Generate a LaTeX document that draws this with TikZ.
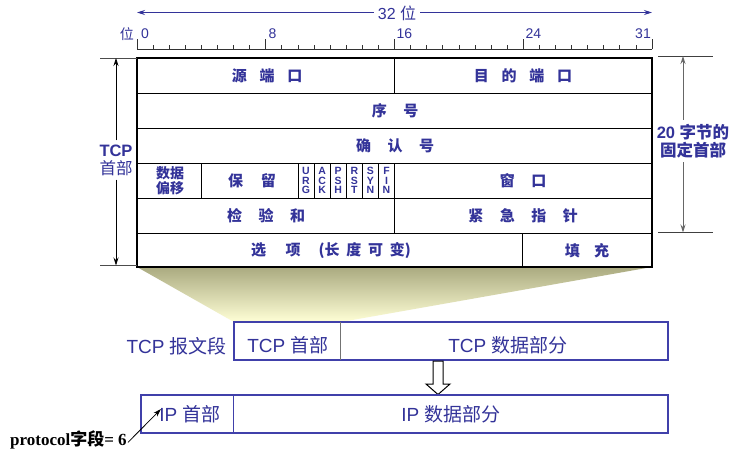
\documentclass[tikz,border=0pt]{standalone}
\usepackage{fontspec}
\setmainfont{Liberation Sans}
\newfontfamily\cjk{Noto Sans CJK SC}
\newfontfamily\serifb{Liberation Serif}
\usetikzlibrary{arrows.meta}
\definecolor{tblue}{RGB}{51,51,153}
\definecolor{bblue}{RGB}{64,64,170}
\definecolor{olivetop}{RGB}{170,170,128}
\definecolor{paleyel}{RGB}{255,255,214}
\newcommand\gp[1][1em]{\hspace{#1}}
\newcommand\hdfont{\cjk\bfseries\fontsize{15}{17}\selectfont}
\begin{document}
\begin{tikzpicture}[x=1pt,y=-1pt,
  hd/.style={text=tblue,font=\hdfont,inner sep=0pt},
  flag/.style={text=tblue,align=center,inner sep=0pt,font=\bfseries\fontsize{10.5}{9.6}\selectfont},
  num/.style={text=tblue,inner sep=0pt,font=\fontsize{14}{16}\selectfont},
  low/.style={text=tblue,inner sep=0pt,font=\fontsize{19}{21}\selectfont},
  inner/.style={line width=0.8pt},
  tip/.style={-{Stealth[length=8pt,width=5pt]}}]
\useasboundingbox (0,0) rectangle (737,456);
\fill[white] (0,0) rectangle (737,456);

% ruler
\draw[line width=0.7pt,black!80] (137,49) -- (652,49);
\foreach \i in {0,...,32} {\draw[line width=0.7pt,black!80] ({137+\i*16.094},49) -- ++(0,-4);}
\foreach \i in {0,8,16,24,32} {\draw[line width=0.9pt,black!80] ({137+\i*16.094},49) -- ++(0,-10);}
\node[num,anchor=base west] (n0) at (141,38) {0};
\node[num,anchor=base west] (n8) at (268.5,38) {8};
\node[num,anchor=base west] (n16) at (396.5,38) {16};
\node[num,anchor=base west] (n24) at (525.5,38) {24};
\node[num,anchor=base east] (n31) at (651,38) {31};
\node[num,anchor=base east,font=\cjk\fontsize{14}{16}\selectfont] (wei) at (134,39) {位};
% 32 bit arrow
\node[num,fill=white,inner xsep=4pt,font=\fontsize{16}{18}\selectfont] (b32) at (397,13.5) {32 {\cjk 位}};
\coordinate (c32l) at (137,12.5);
\coordinate (c32r) at (652,12.5);
\draw[tblue,line width=0.8pt,tip] (b32.west |- c32l) -- (c32l);
\draw[tblue,line width=0.8pt,tip] (b32.east |- c32r) -- (c32r);

% trapezoid
\shade[top color=olivetop,bottom color=paleyel] (137,267) -- (652,267) -- (341,322) -- (234,322) -- cycle;

% header box
\fill[white] (137,58) rectangle (652,267);
\draw[inner] (137,93) -- (652,93);
\draw[inner] (137,128) -- (652,128);
\draw[inner] (137,163) -- (652,163);
\draw[inner] (137,198) -- (652,198);
\draw[inner] (137,233) -- (652,233);
\draw[inner] (394.5,58) -- (394.5,93);
\draw[inner] (394.5,163) -- (394.5,233);
\draw[inner] (201.4,163) -- (201.4,198);
\foreach \b in {10,...,15} {\draw[inner] ({137+\b*16.094},163) -- ({137+\b*16.094},198);}
\draw[inner] (522,233) -- (522,267);
\draw[line width=1.6pt] (137,58) rectangle (652,267);

% header texts
\node[hd] (src) at (267,76) {源\gp[0.85em]端\gp[0.85em]口};
\node[hd] (dst) at (523,76) {目\gp[0.85em]的\gp[0.85em]端\gp[0.85em]口};
\node[hd] (seq) at (395,111) {序\gp[1.1em]号};
\node[hd] (ack) at (395,146) {确\gp[1.1em]认\gp[1.1em]号};
\node[hd,align=center,font=\cjk\bfseries\fontsize{14}{15.5}\selectfont] (off) at (170,180.5) {数据\\偏移};
\node[hd] (res) at (252,181) {保\gp[1.2em]留};
\node[flag] (urg) at (306.0,180.5) {U\\R\\G};
\node[flag] (fack) at (322.1,180.5) {A\\C\\K};
\node[flag] (psh) at (338.2,180.5) {P\\S\\H};
\node[flag] (rst) at (354.3,180.5) {R\\S\\T};
\node[flag] (syn) at (370.4,180.5) {S\\Y\\N};
\node[flag] (fin) at (386.5,180.5) {F\\I\\N};
\node[hd] (win) at (523,181) {窗\gp[1.1em]口};
\node[hd] (chk) at (266,216) {检\gp[1.1em]验\gp[1.1em]和};
\node[hd] (urp) at (523,216) {紧\gp[1.1em]急\gp[1.1em]指\gp[1.1em]针};
\node[hd] (opt) at (331,250.5) {选\gp[1.3em]项\gp[1.2em](长\gp[0.45em]度\gp[0.45em]可\gp[0.45em]变)};
\node[hd] (pad) at (587,250.5) {填\gp[0.95em]充};

% left brace arrow
\draw[black!70,line width=0.7pt] (100,58) -- (137,58);
\draw[black!70,line width=0.7pt] (100,265.5) -- (137,265.5);
\node[text=tblue,align=center,inner sep=4pt,font=\fontsize{16.5}{18}\selectfont] (tcph) at (116,160) {\bfseries TCP\\{\cjk 首部}};
\coordinate (ltop) at (116,58);
\coordinate (lbot) at (116,265.5);
\draw[line width=0.7pt,tip] (tcph.north) -- (ltop);
\draw[line width=0.7pt,tip] (tcph.south) -- (lbot);

% right arrow
\draw[black!75,line width=0.8pt] (658,56) -- (713,56);
\draw[black!75,line width=0.8pt] (658,232.5) -- (713,232.5);
\node[text=tblue,align=center,inner sep=4pt,font=\bfseries\fontsize{16.5}{18.5}\selectfont] (fix) at (693,141) {20 {\cjk 字节的}\\{\cjk 固定首部}};
\coordinate (rtop) at (683,56);
\coordinate (rbot) at (683,232.5);
\draw[black!60,line width=1pt,tip] (rtop |- fix.north) -- (rtop);
\draw[black!60,line width=1pt,tip] (rbot |- fix.south) -- (rbot);

% TCP segment
\draw[bblue,line width=1.2pt] (234,322) rectangle (668,360);
\draw[black!55,line width=1pt] (340,322) -- (340,360);
\node[low,anchor=east] (seg) at (227,346) {TCP {\cjk 报文段}};
\node[low] (th) at (288,345) {TCP {\cjk 首部}};
\node[low] (td) at (508,345) {TCP {\cjk 数据部分}};

% hollow arrow
\draw[fill=white,line width=1pt] (433,361) -- (443,361) -- (443,384) -- (450,384) -- (438,394.5) -- (426,384) -- (433,384) -- cycle;

% IP datagram
\draw[bblue,line width=1.2pt] (141,395) rectangle (668,433);
\draw[bblue,line width=1pt] (233,395) -- (233,433);
\node[low] (iph) at (190,414) {IP {\cjk 首部}};
\node[low] (ipd) at (451,414) {IP {\cjk 数据部分}};

% protocol label
\node[anchor=base west,inner sep=0pt,font=\serifb\bfseries\fontsize{17}{19}\selectfont] (prot) at (10,445) {protocol{\cjk 字段}= 6};
\coordinate (ptip) at (161,409);
\draw[line width=0.8pt,-{Stealth[length=8pt,width=5pt]}] ([xshift=1pt,yshift=-3pt]prot.east) -- (ptip);
\end{tikzpicture}
\end{document}
